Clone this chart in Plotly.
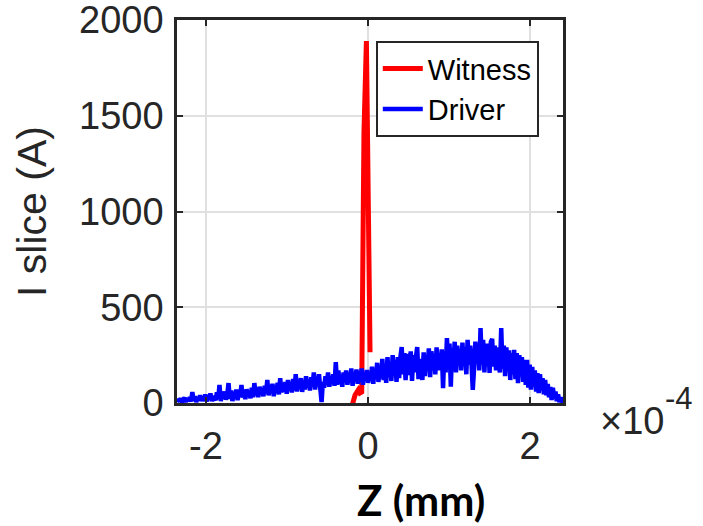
import numpy as np
import plotly.graph_objects as go

# Slice current profiles; z is given in units of 1e-4 mm, current in A
witness_z = [-0.20, -0.16, -0.12, -0.10, -0.078, -0.05, -0.02, 0.025]
witness_i = [-19, 42, 68, 52, 57, 1410, 1890, 265]

driver_z_start, driver_z_end, n_slices = -2.36, 2.41, 300
driver_i = [
    5, 20, 8, 25, 3, 15, 28, 6, 22, 10,
    30, 8, 57, 12, 35, 5, 25, 15, 40, 10,
    32, 12, 45, 8, 38, 20, 50, 10, 35, 25,
    15, 55, 20, 94, 10, 48, 25, 60, 18, 40,
    104, 22, 65, 10, 50, 30, 70, 15, 55, 35,
    94, 28, 60, 20, 72, 35, 55, 25, 80, 30,
    104, 40, 75, 30, 85, 45, 70, 35, 90, 50,
    120, 40, 85, 55, 100, 35, 90, 60, 105, 45,
    130, 55, 95, 60, 110, 48, 120, 70, 100, 55,
    125, 65, 150, 60, 110, 75, 130, 58, 115, 70,
    140, 80, 120, 65, 135, 85, 160, 70, 125, 90,
    150, 75, 5, 110, 80, 140, 95, 160, 85, 130,
    100, 150, 90, 214, 95, 170, 100, 145, 85, 160,
    110, 170, 95, 150, 105, 180, 90, 160, 115, 175,
    100, 165, 110, 180, 95, 150, 120, 172, 105, 160,
    115, 190, 100, 175, 125, 210, 110, 185, 130, 230,
    120, 200, 105, 240, 135, 210, 115, 250, 140, 225,
    110, 240, 130, 240, 292, 150, 261, 120, 230, 255,
    145, 270, 115, 250, 160, 240, 292, 125, 230, 170,
    120, 265, 140, 250, 180, 285, 135, 270, 190, 255,
    150, 290, 170, 260, 175, 280, 78, 270, 160, 339,
    190, 310, 85, 285, 200, 320, 160, 300, 210, 280,
    170, 315, 195, 290, 150, 330, 200, 300, 210, 68,
    180, 320, 210, 300, 170, 391, 200, 330, 160, 310,
    220, 310, 157, 320, 335, 190, 300, 170, 290, 200,
    160, 391, 180, 300, 140, 290, 170, 275, 120, 260,
    150, 277, 125, 260, 104, 250, 140, 240, 110, 225,
    95, 225, 80, 200, 70, 188, 85, 170, 60, 156,
    52, 150, 65, 130, 45, 120, 40, 100, 30, 84,
    16, 80, 25, 60, 10, 45, 5, 30, 3, 20,
]

x_ticks = [-2, 0, 2]
y_ticks = [0, 500, 1000, 1500, 2000]
x_range = [-2.358, 2.407]
y_range = [0, 2000]

Z_UNIT = 1e-4  # axis exponent shown next to the x axis
driver_z = np.linspace(driver_z_start, driver_z_end, n_slices) * Z_UNIT
witness_zmm = np.array(witness_z) * Z_UNIT

INK = "#262626"
SANS = "Liberation Sans, Arial, sans-serif"
TICK_FONT = dict(family=SANS, size=38, color=INK)

fig = go.Figure()
fig.add_trace(go.Scatter(x=witness_zmm, y=witness_i, mode="lines", name="Witness",
                         line=dict(color="#ff0000", width=5, simplify=False)))
fig.add_trace(go.Scatter(x=driver_z, y=driver_i, mode="lines", name="Driver",
                         line=dict(color="#0000ff", width=4.5, simplify=False)))

axis_common = dict(
    showgrid=True, gridcolor="#e0e0e0", gridwidth=2,
    showline=True, linecolor=INK, linewidth=2.5, mirror="ticks",
    ticks="inside", ticklen=6, tickwidth=2, tickcolor=INK,
    tickfont=TICK_FONT, zeroline=False, ticklabeloverflow="allow",
    automargin=False,
)

fig.update_layout(
    width=703, height=526,
    margin=dict(l=177, r=140, t=20, b=123),
    paper_bgcolor="white", plot_bgcolor="white",
    xaxis=dict(range=[v * Z_UNIT for v in x_range],
               tickvals=[v * Z_UNIT for v in x_ticks],
               ticktext=[str(v) for v in x_ticks],
               ticklabelstandoff=8, **axis_common),
    yaxis=dict(range=y_range, tickvals=y_ticks,
               ticktext=[str(v) for v in y_ticks],
               ticklabelstandoff=3,
               title=dict(text="I slice (A)", standoff=20,
                          font=dict(family=SANS, size=41, color=INK)),
               **axis_common),
    legend=dict(x=0.515, y=0.945, xanchor="left", yanchor="top",
                bgcolor="white", bordercolor=INK, borderwidth=2,
                font=dict(family=SANS, size=29, color="black"),
                itemwidth=40, tracegroupgap=0),
    showlegend=True,
)

# x-axis exponent label
fig.add_annotation(text="×10", xref="paper", yref="paper", x=1.09, y=-0.048,
                   xanchor="left", yanchor="middle", showarrow=False,
                   font=dict(family=SANS, size=38, color=INK))
fig.add_annotation(text="-4", xref="paper", yref="paper", x=1.26, y=0.013,
                   xanchor="left", yanchor="middle", showarrow=False,
                   font=dict(family=SANS, size=31, color=INK))

# x-axis title
fig.add_annotation(text="<b>Z (mm)</b>", xref="paper", yref="paper", x=0.632, y=-0.253,
                   xanchor="center", yanchor="middle", showarrow=False,
                   font=dict(family="Lato, Open Sans, sans-serif", size=42, color="black"))

fig.write_html("out.html")
